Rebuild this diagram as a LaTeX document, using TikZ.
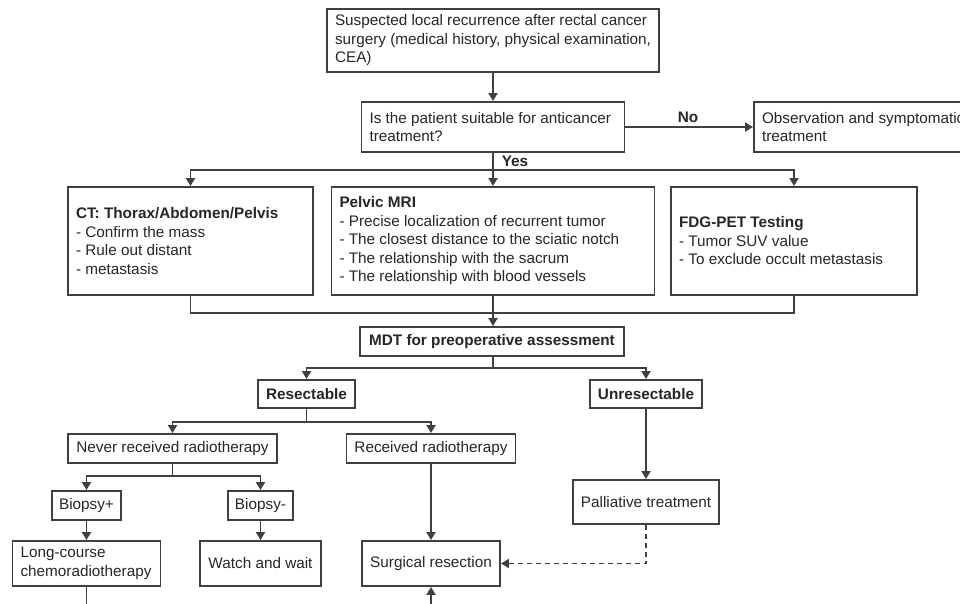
\documentclass[tikz,border=0pt]{standalone}
\usepackage{fontspec}
\setmainfont{Liberation Sans}
\usetikzlibrary{arrows.meta}
\definecolor{ink}{RGB}{64,64,64}
\hyphenpenalty=10000
\exhyphenpenalty=10000
\begin{document}
\begin{tikzpicture}[x=1pt,y=-1pt,line width=1.9pt,ink,
 >={Triangle[length=8pt,width=9pt]},
 font=\fontsize{15.3}{18.5}\selectfont,
 box/.style 2 args={draw,text=black!85,inner xsep=8pt,inner ysep=0pt,
  text width=#1,minimum height=#2,align=flush left},
 cbox/.style 2 args={draw,text=black!85,inner xsep=0pt,inner ysep=0pt,
  minimum width=#1,minimum height=#2,align=center}]
 \useasboundingbox (0,0) rectangle (960,604);
 \clip (0,0) rectangle (960,604);
 \path
 (493,40.5) node[box={316pt}{63pt}] (susp)
  {Suspected local recurrence after rectal cancer\\surgery (medical history, physical examination,\\CEA)} % <<< row 1
 (493,127) node[box={247pt}{50pt}] (suit)
  {Is the patient suitable for anticancer\\treatment?} % <<< row 2
 (885.5,127) node[box={247pt}{50pt}] (obs)
  {Observation and symptomatic\\treatment}
 (688,117) node[text=black!85] (no) {\textbf{No}}
 (515,161) node[text=black!85] (yes) {\textbf{Yes}}
 (190.5,241) node[box={229pt}{108pt}] (ct)
  {\textbf{CT: Thorax/Abdomen/Pelvis}\\- Confirm the mass\\- Rule out distant\\- metastasis} % <<< row 3
 (493,241) node[box={307pt}{108pt}] (mri)
  {\textbf{Pelvic MRI}\\- Precise localization of recurrent tumor\\- The closest distance to the sciatic notch\\- The relationship with the sacrum\\- The relationship with blood vessels}
 (794,241) node[box={230pt}{108pt}] (pet)
  {\textbf{FDG-PET Testing}\\- Tumor SUV value\\- To exclude occult metastasis}
 (492,341.5) node[cbox={264pt}{29pt}] (mdt) {\textbf{MDT for preoperative assessment}} % <<< row 4
 (306.5,394) node[cbox={97pt}{28pt}] (res) {\textbf{Resectable}} % <<< row 5
 (646,394) node[cbox={112pt}{28pt}] (unres) {\textbf{Unresectable}}
 (172.5,448.5) node[cbox={209pt}{29pt}] (never) {Never received radiotherapy} % <<< row 6
 (431,448.5) node[cbox={169pt}{29pt}] (recv) {Received radiotherapy}
 (646,502) node[cbox={146pt}{44pt}] (pall) {Palliative treatment}
 (86.5,505.5) node[cbox={69pt}{29pt}] (bpos) {Biopsy+} % <<< row 7
 (260.5,505.5) node[cbox={65pt}{29pt}] (bneg) {Biopsy-}
 (86.5,563.5) node[box={132pt}{45pt}] (crt) {Long-course\\chemoradiotherapy} % <<< row 8
 (260.5,563.5) node[cbox={121pt}{45pt}] (wait) {Watch and wait}
 (431,563.5) node[cbox={138pt}{45pt}] (surg) {Surgical resection};
 \coordinate (j1) at (493,170);
 \coordinate (j2) at (493,313);
 \coordinate (j3) at (493,368);
 \coordinate (j4) at (306.5,422);
 \coordinate (j5) at (172.5,476);
 \coordinate (crtout) at (86.5,620);
 \coordinate (surgin) at (431,620);
 \draw (suit.south)--(j1);
 \draw (ct.south) |- (j2) -| (pet.south);
 \draw (mdt.south -| j3)--(j3);
 \draw (res.south)--(j4);
 \draw (never.south)--(j5);
 \draw (crt.south)--(crtout);
 \begin{scope}[->]
 \draw (susp)--(suit);
 \draw (suit)--(obs);
 \draw (j1) -| (ct.north);
 \draw (j1)--(mri.north);
 \draw (j1) -| (pet.north);
 \draw (mri.south)--(mdt.north -| j2);
 \draw (j3) -| (res.north);
 \draw (j3) -| (unres.north);
 \draw (j4) -| (never.north);
 \draw (j4) -| (recv.north);
 \draw (j5) -| (bpos.north);
 \draw (j5) -| (bneg.north);
 \draw (bpos)--(crt);
 \draw (bneg)--(wait);
 \draw (recv)--(surg);
 \draw (unres)--(pall);
 \draw[dash pattern=on 5pt off 4pt] (pall.south) |- (surg.east);
 \draw (surgin)--(surg.south);
 \end{scope}
\end{tikzpicture}
\end{document}
